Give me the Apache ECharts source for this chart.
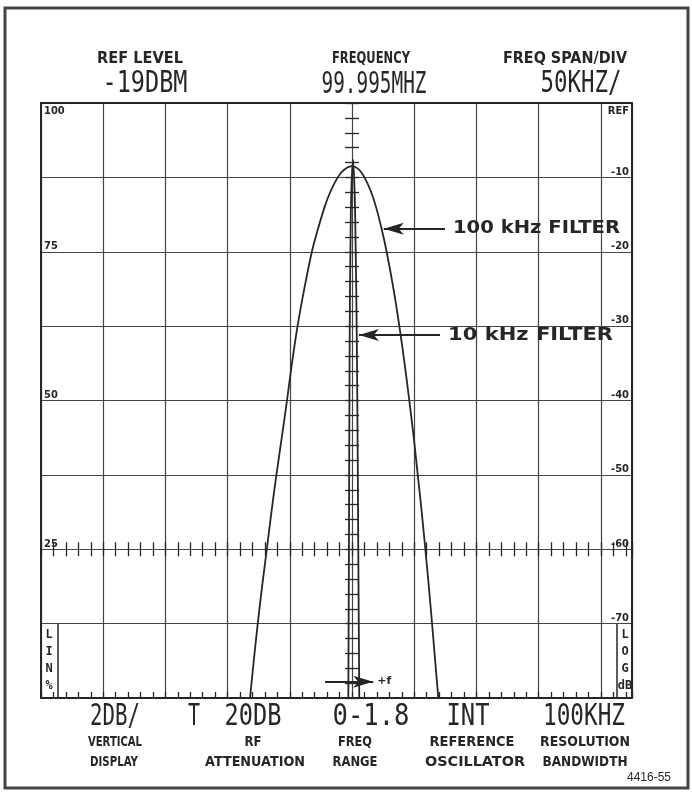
<!DOCTYPE html>
<html>
<head>
<meta charset="utf-8">
<script src="https://cdn.jsdelivr.net/npm/echarts@6/dist/echarts.min.js"></script>
<style>
  html, body { margin: 0; padding: 0; background: #fff; }
  #chart { width: 692px; height: 792px; }
</style>
</head>
<body>
<div id="chart"></div>
<script>
// Spectrum analyzer display: 100 kHz and 10 kHz resolution filter responses.
// Frequency offset from centre (kHz), level (dB relative to screen top = REF).
const filter100Freq = [
  -82, -79, -75.8, -72.3, -68.5, -64.8, -60.8, -56.5, -52.3, -48.3, -43.8, -38.4, -32.3, -27.5, -22.1, -17.6, -11.5, -6.6,
  0,
  5.8, 10, 15.4, 19.3, 23.9, 27.8, 33.3, 38, 42.2, 46, 49.6, 52.8, 56, 58.9, 61.7, 64.3, 66.8, 69.3
];
const filter100Level = [
  -80, -75, -70, -65, -60, -55, -50, -45, -40, -35, -30, -25, -20, -17, -14, -12, -10, -9,
  -8.5,
  -9, -10, -12, -14, -17, -20, -25, -30, -35, -40, -45, -50, -55, -60, -65, -70, -75, -80
];

const filter10Freq  = [-3, -2.5, -2, -1, 0.8, 2.5, 4, 5, 5.8];
const filter10Level = [-80, -60, -35, -15, -7.6, -15, -35, -60, -80];

// Graticule scale labels
const logTickLabels = ['REF', '-10', '-20', '-30', '-40', '-50', '-60', '-70'];
const linTickLabels = ['100', '75', '50', '25'];

// Annotation arrows: [label, start kHz, end kHz, level dB]
const annotations = [
  ['100 kHz FILTER', 74.7, 25.5, -16.9],
  ['10 kHz FILTER', 70.7, 5.5, -31.2],
  ['+f', -21.7, 17, -77.8]
];

// Readout text blocks: [text, centre x, centre y, font size, weight, width, family]
const MONO = '"DejaVu Sans Mono", monospace';
const SANS = '"DejaVu Sans", sans-serif';
const headerTexts = [
  ['REF LEVEL', 140, 59, 15, 'bold', 86, SANS],
  ['-19DBM', 145, 84, 30, 'normal', 85, MONO],
  ['FREQUENCY', 371, 59, 15, 'bold', 78, SANS],
  ['99.995MHZ', 374, 85, 30, 'normal', 105, MONO],
  ['FREQ SPAN/DIV', 565, 59, 15, 'bold', 124, SANS],
  ['50KHZ/', 581, 84, 30, 'normal', 81, MONO]
];
const footerTexts = [
  ['2DB/', 115, 717, 30, 'normal', 50, MONO],
  ['T', 194, 717, 30, 'normal', 12, MONO],
  ['20DB', 253, 717, 30, 'normal', 57, MONO],
  ['0-1.8', 371, 717, 30, 'normal', 77, MONO],
  ['INT', 468, 717, 30, 'normal', 43, MONO],
  ['100KHZ', 584, 717, 30, 'normal', 82, MONO],
  ['VERTICAL', 115, 742, 14, 'bold', 54, SANS],
  ['RF', 253, 742, 14, 'bold', 17, SANS],
  ['FREQ', 355, 742, 14, 'bold', 34, SANS],
  ['REFERENCE', 472, 742, 14, 'bold', 85, SANS],
  ['RESOLUTION', 585, 742, 14, 'bold', 90, SANS],
  ['DISPLAY', 114, 762, 14, 'bold', 48, SANS],
  ['ATTENUATION', 255, 762, 14, 'bold', 100, SANS],
  ['RANGE', 355, 762, 14, 'bold', 45, SANS],
  ['OSCILLATOR', 475, 762, 14, 'bold', 100, SANS],
  ['BANDWIDTH', 585, 762, 14, 'bold', 85, SANS]
];

const INK = '#262626';
const GRID = { left: 41, top: 103, width: 591, height: 595 };
const X_MIN = -250, X_MAX = 225, Y_MIN = -80, Y_MAX = 0;

// Pixel offsets of the centre line and the -60 dB line inside the grid
const centreOffset = GRID.width * (0 - X_MIN) / (X_MAX - X_MIN);
const line60Offset = GRID.height * (-60 - Y_MIN) / (Y_MAX - Y_MIN);

const measureCtx = document.createElement('canvas').getContext('2d');
function fittedText(str, cx, cy, size, weight, w, family, align) {
  const font = weight + ' ' + size + 'px ' + family;
  measureCtx.font = font;
  const natural = measureCtx.measureText(str).width;
  return {
    type: 'text', x: cx, y: cy, scaleX: w / natural, silent: true, z: 10,
    style: { text: str, font: font, fill: INK, textAlign: align || 'center', textVerticalAlign: 'middle' }
  };
}

const zip = (xs, ys) => xs.map((x, i) => [x, ys[i]]);
const tickStyle = { color: INK, width: 1.3 };
const gridLineStyle = { color: '#444', width: 1.2 };

const tickAxisX = (extra) => Object.assign({
  type: 'value', min: X_MIN, max: X_MAX, interval: 10, position: 'bottom',
  axisLine: { show: false, onZero: false }, splitLine: { show: false }, axisLabel: { show: false }
}, extra);
const tickAxisY = (extra) => Object.assign({
  type: 'value', min: Y_MIN, max: Y_MAX, interval: 2, position: 'left',
  offset: -centreOffset,
  axisLine: { show: false, onZero: false }, splitLine: { show: false }, axisLabel: { show: false }
}, extra);

const labelFont = { fontFamily: '"DejaVu Sans Condensed", "DejaVu Sans", sans-serif', fontWeight: 'bold', fontSize: 11, color: INK };

const chart = echarts.init(document.getElementById('chart'), null, { renderer: 'canvas' });

chart.setOption({
  animation: false,
  backgroundColor: '#fff',
  grid: GRID,
  xAxis: [
    { // main frequency axis: graticule columns and bottom edge
      type: 'value', min: X_MIN, max: X_MAX, interval: 50, position: 'bottom',
      axisLine: { show: true, onZero: false, lineStyle: { color: INK, width: 2 } },
      axisTick: { show: false }, axisLabel: { show: false },
      splitLine: { show: true, lineStyle: gridLineStyle }
    },
    tickAxisX({ axisTick: { show: true, inside: true, length: 6, lineStyle: tickStyle } }),
    tickAxisX({ offset: -line60Offset, axisTick: { show: true, inside: true, length: 7, lineStyle: tickStyle } }),
    tickAxisX({ offset: -line60Offset, axisTick: { show: true, inside: false, length: 7, lineStyle: tickStyle } }),
    { // top edge
      type: 'value', min: X_MIN, max: X_MAX, position: 'top',
      axisLine: { show: true, onZero: false, lineStyle: { color: INK, width: 2 } },
      axisTick: { show: false }, axisLabel: { show: false }, splitLine: { show: false }
    }
  ],
  yAxis: [
    { // level axis: graticule rows, left edge, linear-percent labels
      type: 'value', min: Y_MIN, max: Y_MAX, interval: 10, position: 'left',
      axisLine: { show: true, onZero: false, lineStyle: { color: INK, width: 2 } },
      axisTick: { show: false },
      splitLine: { show: true, lineStyle: gridLineStyle },
      axisLabel: Object.assign({
        show: true, inside: true, margin: 3, verticalAlign: 'bottom', align: 'left',
        formatter: v => (v < 0 && v > Y_MIN && v % 20 === 0) ? linTickLabels[-v / 20] : ''
      }, labelFont)
    },
    { // right edge with log (dB) labels
      type: 'value', min: Y_MIN, max: Y_MAX, interval: 10, position: 'right',
      axisLine: { show: true, onZero: false, lineStyle: { color: INK, width: 2 } },
      axisTick: { show: false }, splitLine: { show: false },
      axisLabel: Object.assign({
        show: true, inside: true, margin: 3, verticalAlign: 'bottom', align: 'right',
        formatter: v => (v < 0 && v > Y_MIN) ? logTickLabels[-v / 10] : ''
      }, labelFont)
    },
    tickAxisY({ axisTick: { show: true, inside: true, length: 7, lineStyle: tickStyle } }),
    tickAxisY({ axisTick: { show: true, inside: false, length: 7, lineStyle: tickStyle } })
  ],
  series: [
    {
      name: '100 kHz filter', type: 'line', xAxisIndex: 0, yAxisIndex: 0,
      data: zip(filter100Freq, filter100Level), smooth: 0.3, symbol: 'none',
      lineStyle: { color: INK, width: 1.8 }, silent: true,
      markLine: {
        silent: true, symbol: ['none', 'arrow'], symbolSize: [9, 20], precision: 2,
        lineStyle: { color: INK, width: 2, type: 'solid' },
        label: { show: false },
        data: annotations.map(a => [{ coord: [a[1], a[3]] }, { coord: [a[2], a[3]] }])
      }
    },
    {
      name: '10 kHz filter', type: 'line', xAxisIndex: 0, yAxisIndex: 0,
      data: zip(filter10Freq, filter10Level), smooth: 0.3, symbol: 'none',
      lineStyle: { color: INK, width: 1.8 }, silent: true
    }
  ],
  graphic: [
    { type: 'rect', silent: true, shape: { x: 5, y: 8, width: 683, height: 780 },
      style: { fill: 'none', stroke: '#444', lineWidth: 3 } },
    // top-corner scale labels
    { type: 'text', x: GRID.left + 3, y: GRID.top + 3, silent: true,
      style: { text: linTickLabels[0], font: 'bold 11px "DejaVu Sans Condensed", "DejaVu Sans", sans-serif', fill: INK, textAlign: 'left', textVerticalAlign: 'top' } },
    { type: 'text', x: GRID.left + GRID.width - 3, y: GRID.top + 3, silent: true,
      style: { text: logTickLabels[0], font: 'bold 11px "DejaVu Sans Condensed", "DejaVu Sans", sans-serif', fill: INK, textAlign: 'right', textVerticalAlign: 'top' } },
    // LIN % and LOG dB scale boxes in the bottom corners
    { type: 'line', silent: true,
      shape: { x1: GRID.left + 17, y1: GRID.top + GRID.height * 7 / 8, x2: GRID.left + 17, y2: GRID.top + GRID.height },
      style: { stroke: INK, lineWidth: 1.5 } },
    { type: 'line', silent: true,
      shape: { x1: GRID.left + GRID.width - 15, y1: GRID.top + GRID.height * 7 / 8, x2: GRID.left + GRID.width - 15, y2: GRID.top + GRID.height },
      style: { stroke: INK, lineWidth: 1.5 } },
    { type: 'text', x: GRID.left + 8, y: GRID.top + GRID.height * 7 / 8 + 3, silent: true,
      style: { text: 'L\nI\nN\n%', font: 'bold 12px "DejaVu Sans Mono", monospace', lineHeight: 17, fill: INK, textAlign: 'center', textVerticalAlign: 'top' } },
    { type: 'text', x: GRID.left + GRID.width - 7, y: GRID.top + GRID.height * 7 / 8 + 3, silent: true,
      style: { text: 'L\nO\nG\ndB', font: 'bold 12px "DejaVu Sans Mono", monospace', lineHeight: 17, fill: INK, textAlign: 'center', textVerticalAlign: 'top' } },
    { type: 'text', x: 649, y: 778, silent: true,
      style: { text: '4416-55', font: '12px "Liberation Sans", Arial, sans-serif', fill: INK, textAlign: 'center', textVerticalAlign: 'middle' } }
  ].concat(headerTexts.concat(footerTexts).map(t => fittedText.apply(null, t)))
});

// Arrow captions, placed just beyond the tail of each arrow
const captionWidths = [167, 165, 14];
const captions = annotations.map((a, i) => {
  const tail = chart.convertToPixel({ gridIndex: 0 }, [a[1], a[3]]);
  const leftward = a[2] < a[1];
  if (leftward) {
    return fittedText(a[0], tail[0] + 8, tail[1], 18, 'bold', captionWidths[i], SANS, 'left');
  }
  const head = chart.convertToPixel({ gridIndex: 0 }, [a[2], a[3]]);
  return fittedText(a[0], head[0] + 4, head[1], 11, 'bold', captionWidths[i], SANS, 'left');
});
chart.setOption({ graphic: captions.map((c, i) => Object.assign({ id: 'caption' + i }, c)) });
</script>
</body>
</html>
